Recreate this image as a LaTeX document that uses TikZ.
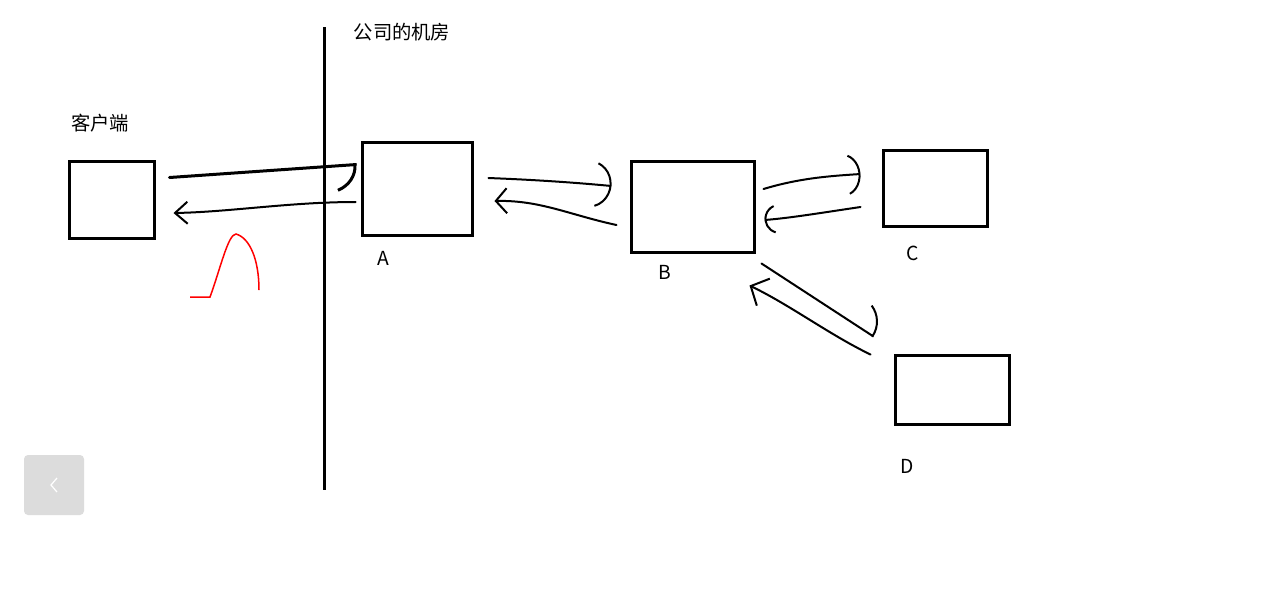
\documentclass[tikz,border=0pt]{standalone}
\usepackage{fontspec}
\setmainfont{Noto Sans CJK SC}
\usetikzlibrary{arrows.meta,calc}
\definecolor{btngray}{RGB}{220,220,220}
\tikzset{
  box/.style={draw,line width=0.06cm,inner sep=0pt},
  link/.style={line width=0.04cm,line cap=round},
  lbl/.style={font=\fontsize{11pt}{13pt}\selectfont,inner sep=0pt},
  wall/.style={line width=0.06cm}
}

\begin{document}
\begin{tikzpicture}[x=0.02cm,y=-0.02cm]
    \useasboundingbox[fill=white] (0,0) rectangle (1285,600);
    \draw[wall] (324,27)--(324,490);
    \node[lbl] (room) at (402,32) {公司的机房};
    \node[lbl] (clitext) at (100,123) {客户端};
    \node[box,minimum width=1.72cm,minimum height=1.54cm] (cli) at (112,199.5) {};
    \node[box,minimum width=2.22cm,minimum height=1.86cm] (A) at (417.5,188.5) {};
    \node[box,minimum width=2.48cm,minimum height=1.82cm] (B) at (693,206.5) {};
    \node[box,minimum width=2.08cm,minimum height=1.52cm] (C) at (935,188) {};
    \node[box,minimum width=2.30cm,minimum height=1.38cm] (D) at (952.5,389.5) {};
    \node[lbl] (Atext) at (383,258) {A}; \node[lbl] (Btext) at (665,272) {B};
    \node[lbl] (Ctext) at (913,253) {C}; \node[lbl] (Dtext) at (907,466) {D};
    \draw[link,line width=0.06cm,-{Arc Barb[right,arc=140,length=0.6cm,width=1.1cm]}] ($(cli.east)+(13,-22)$)--($(A.west)+(-4,-24)$);
    \draw[link,-{Straight Barb[length=0.25cm,width=0.44cm]}] ($(A.west)+(-5,13.5)$) .. controls (290,202) and (230,212) .. ($(cli.east)+(17,13.5)$);
    \draw[link,-{Arc Barb[arc=140,length=0.45cm,width=0.95cm]}] ($(A.east)+(14,-10.5)$) .. controls (540,180) and (580,183) .. ($(B.west)+(-18,-20.5)$);
    \draw[link,-{Straight Barb[length=0.22cm,width=0.5cm]}] ($(B.west)+(-13,18.5)$) .. controls (570,215) and (540,200) .. ($(A.east)+(20,12.5)$);
    \draw[link,-{Arc Barb[arc=140,length=0.35cm,width=0.85cm]}] ($(B.east)+(7,-17.5)$) .. controls (800,178) and (830,176) .. ($(C.west)+(-21,-14)$);
    \draw[link,-{Arc Barb[arc=140,length=0.3cm,width=0.6cm]}] ($(C.west)+(-21,19)$) .. controls (820,213) and (790,218) .. ($(B.east)+(8,13.5)$);
    \draw[link,-{Arc Barb[left,arc=140,length=0.55cm,width=1.1cm]}] ($(B.south east)+(5,10)$)--($(D.north west)+(-20,-17)$);
    \draw[link,-{Straight Barb[length=0.28cm,width=0.6cm]}] ($(D.north west)+(-23,1)$) .. controls (830,335) and (790,305) .. ($(B.south east)+(-7,32)$);
    \draw[red,line width=0.03cm] (190,297)--(210,297) .. controls (220,270) and (228,234) .. (236,234) .. controls (250,238) and (259,260) .. (259,290);
    \fill[btngray,rounded corners=0.08cm] (24,455) rectangle (84,515);
    \draw[white,line width=0.025cm] (57,478)--(51,485)--(57,492);
  \end{tikzpicture}
\end{document}
